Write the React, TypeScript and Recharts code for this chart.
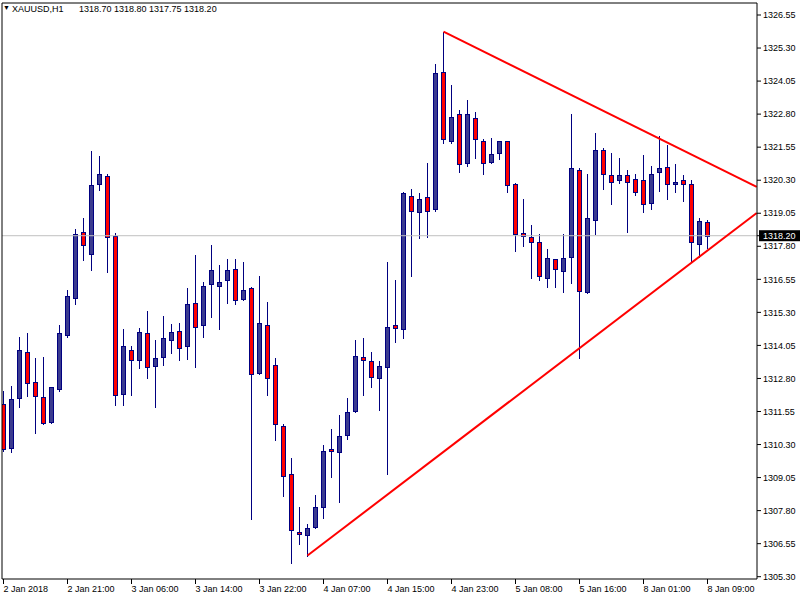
import React from 'react';
import { ComposedChart, Bar, XAxis, YAxis, ReferenceLine } from 'recharts';

const opens = [
  1311.83, 1310.16, 1312.05, 1313.79, 1312.65, 1312.09, 1311.14, 1312.39, 1314.43, 1315.83,
  1318.33, 1317.50, 1320.14, 1320.45, 1318.18, 1312.20, 1313.86, 1313.49, 1314.51, 1313.26,
  1313.60, 1314.24, 1314.58, 1314.02, 1315.64, 1314.81, 1316.36, 1316.29, 1316.51, 1316.93,
  1315.79, 1316.21, 1312.99, 1314.81, 1313.30, 1310.99, 1309.17, 1307.00, 1306.86, 1307.17,
  1307.92, 1310.12, 1310.00, 1310.65, 1311.56, 1313.60, 1313.45, 1312.80, 1313.22, 1314.81,
  1314.66, 1319.69, 1319.09, 1319.65, 1319.20, 1324.38, 1321.77, 1322.79, 1320.94, 1322.64,
  1321.77, 1320.98, 1321.32, 1321.77, 1320.14, 1318.29, 1318.14, 1317.95, 1316.59, 1317.31,
  1316.85, 1317.38, 1320.67, 1316.06, 1318.78, 1321.43, 1320.49, 1320.30, 1320.49, 1320.33,
  1320.30, 1319.43, 1320.60, 1320.79, 1320.14, 1320.30, 1320.14, 1317.87, 1318.70,
];
const highs = [
  1312.32, 1312.51, 1314.37, 1314.52, 1313.57, 1313.61, 1312.47, 1314.82, 1316.15, 1318.45,
  1318.87, 1321.40, 1321.21, 1320.53, 1318.29, 1314.67, 1314.03, 1314.71, 1315.34, 1314.25,
  1315.16, 1314.86, 1314.90, 1316.22, 1317.47, 1316.45, 1317.85, 1317.09, 1317.32, 1317.32,
  1317.20, 1316.26, 1316.68, 1315.69, 1313.57, 1311.08, 1309.79, 1307.94, 1307.28, 1308.38,
  1310.28, 1310.87, 1311.40, 1312.05, 1314.25, 1314.32, 1313.79, 1313.45, 1317.19, 1316.51,
  1319.84, 1319.96, 1319.80, 1320.94, 1324.68, 1325.92, 1323.89, 1322.94, 1323.32, 1322.87,
  1321.85, 1321.89, 1321.78, 1321.78, 1320.18, 1319.58, 1318.59, 1318.25, 1317.69, 1317.32,
  1318.25, 1322.80, 1320.75, 1320.53, 1322.09, 1321.52, 1321.32, 1321.13, 1320.67, 1320.52,
  1321.24, 1320.83, 1321.96, 1321.62, 1320.90, 1320.49, 1320.30, 1318.86, 1318.80,
];
const lows = [
  1310.04, 1310.00, 1311.73, 1312.15, 1310.75, 1311.08, 1311.13, 1312.34, 1314.38, 1315.63,
  1317.29, 1316.91, 1319.94, 1316.84, 1311.81, 1311.81, 1312.18, 1313.21, 1312.83, 1311.73,
  1313.32, 1313.75, 1313.49, 1313.55, 1313.24, 1314.38, 1315.11, 1314.68, 1315.66, 1315.60,
  1315.78, 1307.47, 1312.98, 1312.16, 1310.48, 1308.36, 1305.80, 1306.52, 1306.08, 1307.13,
  1307.51, 1309.06, 1308.11, 1310.50, 1311.52, 1312.16, 1312.46, 1311.59, 1309.17, 1314.17,
  1314.34, 1316.69, 1318.10, 1318.14, 1319.12, 1321.70, 1321.70, 1320.60, 1320.83, 1321.13,
  1320.52, 1320.94, 1321.09, 1319.84, 1317.61, 1317.80, 1316.59, 1316.51, 1316.25, 1316.25,
  1316.06, 1316.40, 1313.56, 1316.05, 1318.25, 1319.96, 1319.39, 1320.18, 1318.33, 1319.73,
  1319.09, 1319.20, 1319.88, 1319.58, 1319.84, 1319.50, 1317.19, 1317.38, 1317.75,
];
const closes = [
  1310.12, 1312.01, 1313.86, 1312.62, 1312.15, 1311.10, 1312.46, 1314.51, 1315.91, 1318.25,
  1317.84, 1320.11, 1320.52, 1318.14, 1312.16, 1314.02, 1313.49, 1314.54, 1313.22, 1313.56,
  1314.32, 1314.54, 1313.94, 1315.60, 1314.73, 1316.29, 1316.89, 1316.44, 1316.89, 1315.76,
  1316.13, 1312.96, 1314.89, 1312.80, 1311.06, 1309.10, 1307.05, 1306.90, 1307.13, 1307.92,
  1310.04, 1310.04, 1310.61, 1311.52, 1313.64, 1313.49, 1312.84, 1313.26, 1314.73, 1314.70,
  1319.80, 1319.12, 1319.58, 1319.12, 1324.34, 1321.85, 1322.68, 1320.90, 1322.79, 1321.85,
  1320.94, 1321.28, 1321.77, 1320.11, 1318.25, 1318.18, 1317.95, 1316.66, 1317.34, 1316.93,
  1317.34, 1320.75, 1316.10, 1318.86, 1321.43, 1320.52, 1320.22, 1320.49, 1320.22, 1319.84,
  1319.39, 1320.52, 1320.75, 1320.14, 1320.22, 1320.14, 1317.95, 1318.74, 1318.20,
];

const timeTickIndex = [0, 8, 16, 24, 32, 40, 48, 56, 64, 72, 80, 88];
const timeTickLabels = [
  '2 Jan 2018', '2 Jan 21:00', '3 Jan 06:00', '3 Jan 14:00', '3 Jan 22:00', '4 Jan 07:00',
  '4 Jan 15:00', '4 Jan 23:00', '5 Jan 08:00', '5 Jan 16:00', '8 Jan 01:00', '8 Jan 09:00',
];
const priceTicks = [
  1305.3, 1306.55, 1307.8, 1309.05, 1310.3, 1311.55, 1312.8, 1314.05, 1315.3, 1316.55,
  1317.8, 1319.05, 1320.3, 1321.55, 1322.8, 1324.05, 1325.3, 1326.55, 1318.2,
];
const lastPrice = 1318.2;
const symbolTitle = 'XAUUSD,H1';
const ohlcTitle = '1318.70 1318.80 1317.75 1318.20';

const upperTrendX = [55, 94.15];
const upperTrendY = [1325.92, 1320.05];
const lowerTrendX = [38, 94.15];
const lowerTrendY = [1306.1, 1319.06];

const xDomain = [-0.1875, 94.1875];
const yDomain = [1305.213, 1327.004];

const data = opens.map((o, i) => ({
  i,
  o,
  h: highs[i],
  l: lows[i],
  c: closes[i],
  range: [lows[i], highs[i]],
}));

const FONT = "'Liberation Sans', Arial, sans-serif";

const Candle = (props: any) => {
  const { x, y, width, height, payload } = props;
  if (!payload || x == null) return null;
  const { o, h, l, c } = payload;
  const cx = Math.round(x + width / 2 - 0.5) + 0.5;
  const top = Math.min(y, y + height);
  const bottom = Math.max(y, y + height);
  const k = h - l > 0 ? (bottom - top) / (h - l) : 0;
  const py = (v: number) => top + (h - v) * k;
  const bt = Math.round(py(Math.max(o, c)));
  const bb = Math.round(py(Math.min(o, c)));
  const bull = c >= o;
  return (
    <g>
      <line x1={cx} x2={cx} y1={Math.round(top)} y2={Math.round(bottom) + 1} stroke="#000080" strokeWidth={1} />
      <rect
        x={cx - 2}
        y={bt + 0.5}
        width={4}
        height={Math.max(1, bb - bt)}
        fill={bull ? '#3b3b8f' : '#ff0000'}
        stroke="#000080"
        strokeWidth={1}
      />
    </g>
  );
};

const XTick = (props: any) => {
  const { x, y, payload } = props;
  const idx = timeTickIndex.indexOf(payload.value);
  return (
    <text x={x} y={y} dy={7.5} textAnchor="start" fontSize={9} fontFamily={FONT} fill="#000">
      {idx >= 0 ? timeTickLabels[idx] : ''}
    </text>
  );
};

const YTick = (props: any) => {
  const { x, y, payload } = props;
  const v = payload.value;
  if (Math.abs(v - lastPrice) < 1e-6) {
    return (
      <g>
        <rect x={x - 4} y={y - 5.5} width={44} height={11} fill="#000" />
        <text x={x} y={y} dy={3.2} textAnchor="start" fontSize={9} fontFamily={FONT} fill="#fff">
          {v.toFixed(2)}
        </text>
      </g>
    );
  }
  return (
    <text x={x} y={y} dy={3.2} textAnchor="start" fontSize={9} fontFamily={FONT} fill="#000">
      {v.toFixed(2)}
    </text>
  );
};

export default function App() {
  return (
    <div style={{ position: 'absolute', left: 0, top: 0, width: 800, height: 600, background: '#fff' }}>
      <ComposedChart
        width={800}
        height={600}
        data={data}
        margin={{ top: 3, right: 0, bottom: 0, left: 2 }}
      >
        <XAxis
          dataKey="i"
          type="number"
          domain={xDomain}
          allowDataOverflow
          ticks={timeTickIndex}
          interval={0}
          height={21}
          tickSize={5}
          tickMargin={0}
          axisLine={{ stroke: '#000' }}
          tickLine={{ stroke: '#000' }}
          tick={<XTick />}
        />
        <YAxis
          orientation="right"
          type="number"
          domain={yDomain}
          allowDataOverflow
          ticks={priceTicks}
          interval={0}
          width={43}
          tickSize={4}
          tickMargin={2}
          axisLine={{ stroke: '#000' }}
          tickLine={{ stroke: '#000' }}
          tick={<YTick />}
        />
        <ReferenceLine y={lastPrice} stroke="#c0c0c0" strokeWidth={1} />
        <ReferenceLine x={xDomain[0]} stroke="#000" strokeWidth={1} />
        <ReferenceLine y={yDomain[1]} stroke="#000" strokeWidth={1} />
        <Bar dataKey="range" barSize={5} shape={<Candle />} isAnimationActive={false} />
        <ReferenceLine
          segment={[
            { x: upperTrendX[0], y: upperTrendY[0] },
            { x: upperTrendX[1], y: upperTrendY[1] },
          ]}
          ifOverflow="visible"
          stroke="#ff0000"
          strokeWidth={2}
        />
        <ReferenceLine
          segment={[
            { x: lowerTrendX[0], y: lowerTrendY[0] },
            { x: lowerTrendX[1], y: lowerTrendY[1] },
          ]}
          ifOverflow="visible"
          stroke="#ff0000"
          strokeWidth={2}
        />
      </ComposedChart>
      <div style={{ position: 'absolute', left: 3, top: 3, fontSize: 7, fontFamily: FONT, color: '#000', lineHeight: '10px' }}>▼</div>
      <div style={{ position: 'absolute', left: 12, top: 4, fontSize: 9, fontFamily: FONT, color: '#000', lineHeight: '11px', whiteSpace: 'pre' }}>{symbolTitle}</div>
      <div style={{ position: 'absolute', left: 79, top: 4, fontSize: 9, fontFamily: FONT, color: '#000', lineHeight: '11px', whiteSpace: 'pre' }}>{ohlcTitle}</div>
    </div>
  );
}
